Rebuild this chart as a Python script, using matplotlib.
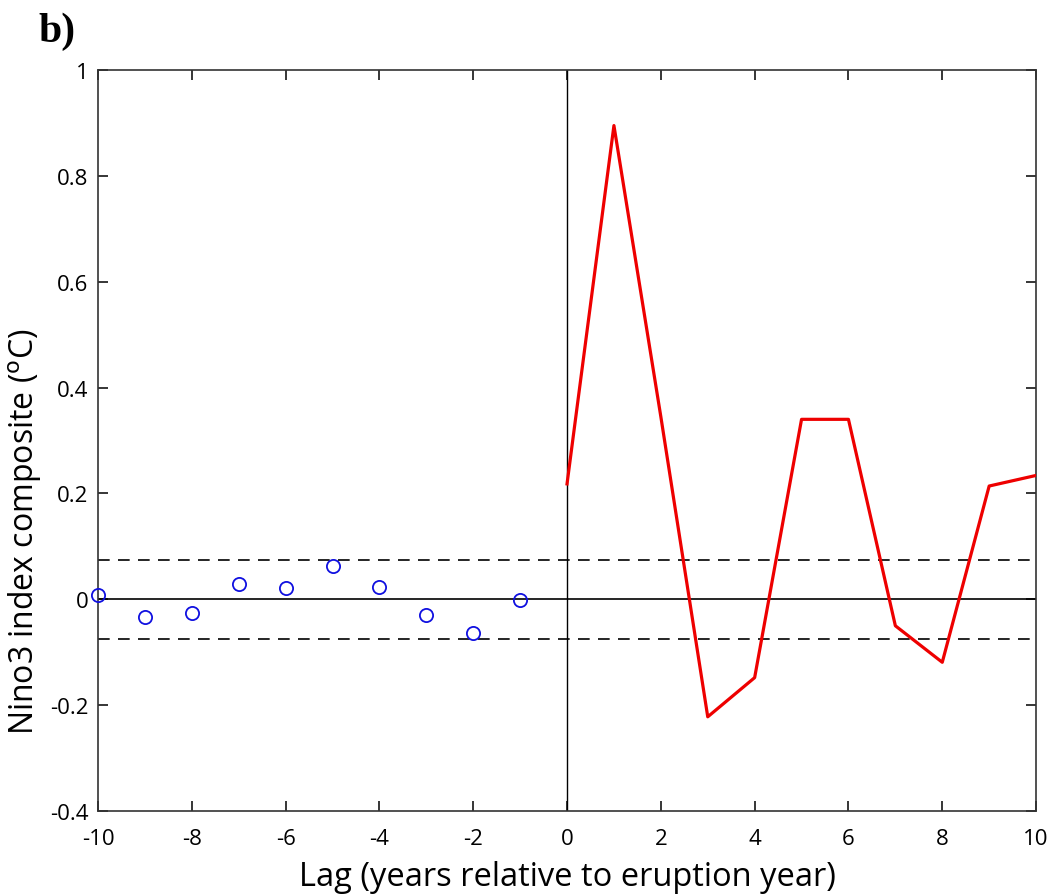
import matplotlib
matplotlib.use("Agg")
import matplotlib.pyplot as plt

plt.rcParams["axes.unicode_minus"] = False

pre_lags = [-10, -9, -8, -7, -6, -5, -4, -3, -2, -1]
pre_vals = [0.008, -0.034, -0.026, 0.029, 0.021, 0.062, 0.023, -0.030, -0.064, -0.001]
post_lags = [0, 1, 2, 3, 4, 5, 6, 7, 8, 9, 10]
post_vals = [0.218, 0.895, 0.345, -0.222, -0.148, 0.340, 0.340, -0.050, -0.119, 0.214, 0.234]
sig_level = 0.075
xticks = [-10, -8, -6, -4, -2, 0, 2, 4, 6, 8, 10]
yticks = [-0.4, -0.2, 0, 0.2, 0.4, 0.6, 0.8, 1]
ytick_labels = ["-0.4", "-0.2", "0", "0.2", "0.4", "0.6", "0.8", "1"]

fig = plt.figure(figsize=(10.57, 8.95), dpi=100)
ax = fig.add_axes([0.0927, 0.0927, 0.8875, 0.828])

ax.axhline(0, color="black", lw=1.2)
ax.axvline(0, color="black", lw=1.0)
ax.axhline(sig_level, color="black", lw=1.2, ls=(0, (7, 5)))
ax.axhline(-sig_level, color="black", lw=1.2, ls=(0, (7, 5)))

ax.plot(pre_lags, pre_vals, "o", mfc="none", mec="#1010e0", ms=9.5, mew=1.3, clip_on=False, zorder=3)
ax.plot(post_lags, post_vals, color="#ee0000", lw=2.3, zorder=3)

ax.set_xlim(-10, 10)
ax.set_ylim(-0.4, 1)
ax.set_xticks(xticks)
ax.set_yticks(yticks)
ax.set_yticklabels(ytick_labels)
ax.tick_params(direction="in", top=True, right=True, length=7, width=1.1, labelsize=16)
ax.tick_params(axis="x", pad=12)
ax.tick_params(axis="y", pad=7)
for lab in ax.get_xticklabels() + ax.get_yticklabels():
    lab.set_fontfamily("Open Sans")
for s in ax.spines.values():
    s.set_linewidth(1.2)
    s.set_color("#333333")

ax.set_xlabel("Lag (years relative to eruption year)", fontsize=23.5, family="Open Sans", labelpad=8)
ax.set_ylabel(r"Nino3 index composite ($^{\rm o}$C)", fontsize=23, family="Open Sans")
ax.yaxis.set_label_coords(-0.058, 0.378)

fig.text(0.036, 0.965, "b)", fontsize=30, fontweight="bold", family="Liberation Serif", va="center", ha="left")

fig.savefig("out.png", dpi=100)
